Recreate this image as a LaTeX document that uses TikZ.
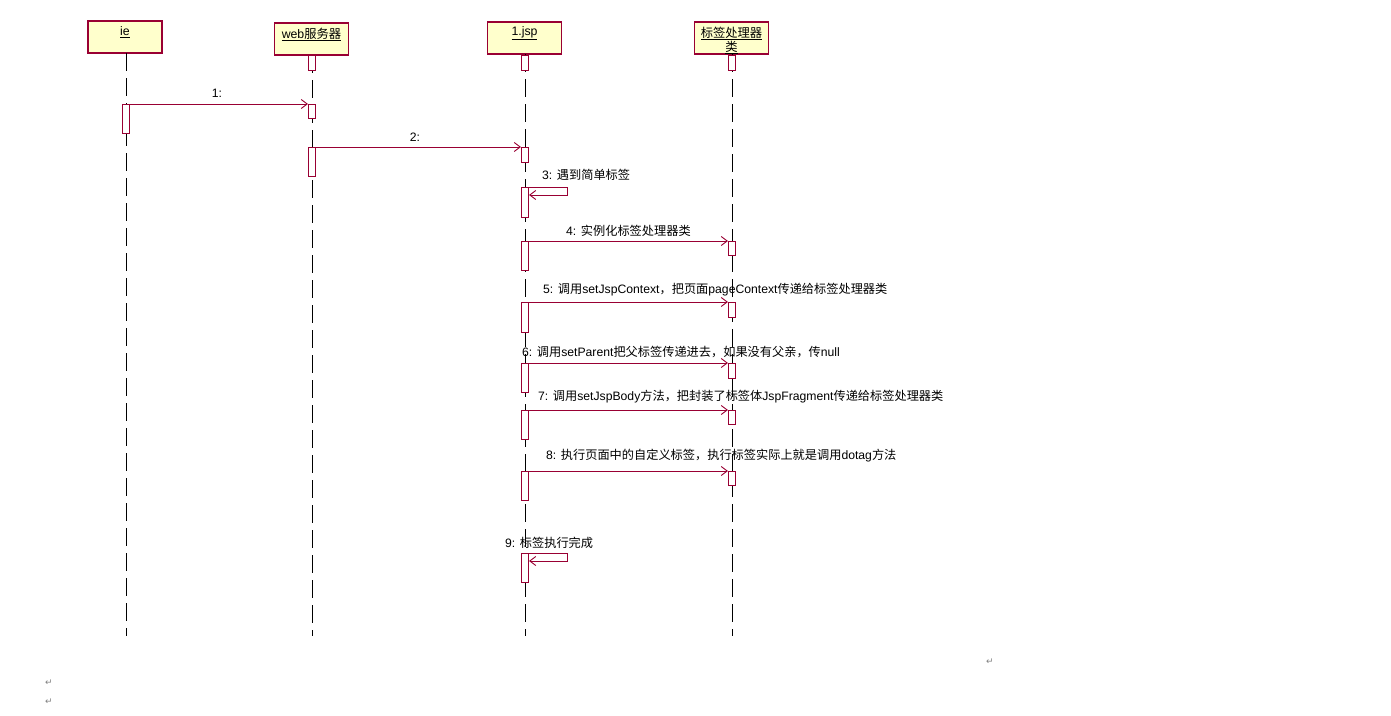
\documentclass[tikz,border=0pt]{standalone}
\usepackage{fontspec}
\setmainfont{Liberation Sans}
\newfontfamily\cjk{Noto Sans CJK SC}
\newfontfamily\symf{DejaVu Sans}
\usetikzlibrary{arrows.meta}
\definecolor{rosered}{HTML}{990033}
\definecolor{headfill}{HTML}{FFFFCC}
\tikzset{
  objbox/.style={draw=rosered, fill=headfill, line width=1.3pt, minimum width=74pt, minimum height=32pt, inner sep=0pt},
  objtext/.style={inner sep=0pt, font=\fontsize{12.3}{13}\selectfont, align=center},
  life/.style={draw=black, line width=1pt, dash pattern=on 18pt off 7pt},
  actbar/.style={draw=rosered, fill=white, line width=1.1pt, minimum width=7pt, inner sep=0pt, anchor=north},
  msg/.style={draw=rosered, line width=0.9pt, -{Straight Barb[length=6pt,width=9pt]}},
  lbl/.style={inner sep=0pt, anchor=west, font=\fontsize{12.2}{14}\selectfont},
  lblc/.style={inner sep=0pt, font=\fontsize{12.2}{14}\selectfont},
  pmark/.style={inner sep=0pt, text=gray, font=\symf\fontsize{9}{10}\selectfont}
}
\newcommand\actb[4]{\node[actbar, minimum height=(#4-#3)*1pt] (#1) at (#2,#3) {};}
\begin{document}
\begin{tikzpicture}[x=1pt,y=-1pt]
\useasboundingbox (0,0) rectangle (1391,715);
% header boxes
\node[objbox] (ie)  at (125,37) {};
\node[objbox] (web) at (311.5,39) {};
\node[objbox] (jsp) at (524.5,38) {};
\node[objbox] (tag) at (731.5,38) {};
\node[objtext] (ieT)  at (125,32.5) {\underline{ie}};
\node[objtext] (webT) at (311.5,34.5) {\underline{web{\cjk 服务器}}};
\node[objtext] (jspT) at (524.5,33.5) {\underline{1.jsp}};
\node[objtext, anchor=north] (tagT1) at (731.5,26.5) {\underline{\cjk 标签处理器}};
\node[objtext, anchor=north] (tagT2) at (731.5,40.5) {\underline{\cjk 类}};
% lifelines
\coordinate (bottom) at (0,636);
\draw[life] (126,53) -- (126,636);
\draw[life] (312,55) -- (312,636);
\draw[life] (525,54) -- (525,636);
\draw[life] (732,54) -- (732,636);
% activation bars
\actb{webA}{312}{55}{70}
\actb{jspA}{525}{55}{70}
\actb{tagA}{732}{55}{70}
\actb{ie1}{126}{104}{133}
\actb{web1}{312}{104}{118}
\actb{web2}{312}{147}{176}
\actb{jsp2}{525}{147}{162}
\actb{jsp3}{525}{187}{217}
\actb{jsp4}{525}{241}{270}
\actb{tag4}{732}{241}{255}
\actb{jsp5}{525}{302}{332}
\actb{tag5}{732}{302}{317}
\actb{jsp6}{525}{363}{392}
\actb{tag6}{732}{363}{378}
\actb{jsp7}{525}{410}{439}
\actb{tag7}{732}{410}{424}
\actb{jsp8}{525}{471}{500}
\actb{tag8}{732}{471}{485}
\actb{jsp9}{525}{553}{582}
% messages
\draw[msg] (ie1.north east) -- (web1.north west);
\draw[msg] (web2.north east) -- (jsp2.north west);
\draw[msg] (jsp3.north east) -- ++(38,0) -- ++(0,8) -- ++(-38,0);
\draw[msg] (jsp4.north east) -- (tag4.north west);
\draw[msg] (jsp5.north east) -- (tag5.north west);
\draw[msg] (jsp6.north east) -- (tag6.north west);
\draw[msg] (jsp7.north east) -- (tag7.north west);
\draw[msg] (jsp8.north east) -- (tag8.north west);
\draw[msg] (jsp9.north east) -- ++(38,0) -- ++(0,8) -- ++(-38,0);
% labels
\node[lblc] (l1) at (217,93) {1:};
\node[lblc] (l2) at (415,137) {2:};
\node[lbl] (l3) at (542,175) {3: {\cjk 遇到简单标签}};
\node[lbl] (l4) at (566,231) {4: {\cjk 实例化标签处理器类}};
\node[lbl] (l5) at (543,290) {5: {\cjk 调用}setJspContext{\cjk ，把页面}pageContext{\cjk 传递给标签处理器类}};
\node[lbl] (l6) at (522,352) {6: {\cjk 调用}setParent{\cjk 把父标签传递进去，如果没有父亲，传}null};
\node[lbl] (l7) at (538,397) {7: {\cjk 调用}setJspBody{\cjk 方法，把封装了标签体}JspFragment{\cjk 传递给标签处理器类}};
\node[lbl] (l8) at (546,456) {8: {\cjk 执行页面中的自定义标签，执行标签实际上就是调用}dotag{\cjk 方法}};
\node[lbl] (l9) at (505,543) {9: {\cjk 标签执行完成}};
% paragraph marks
\node[pmark] (p1) at (990,662) {↵};
\node[pmark] (p2) at (49,683) {↵};
\node[pmark] (p3) at (49,702) {↵};
\end{tikzpicture}
\end{document}
